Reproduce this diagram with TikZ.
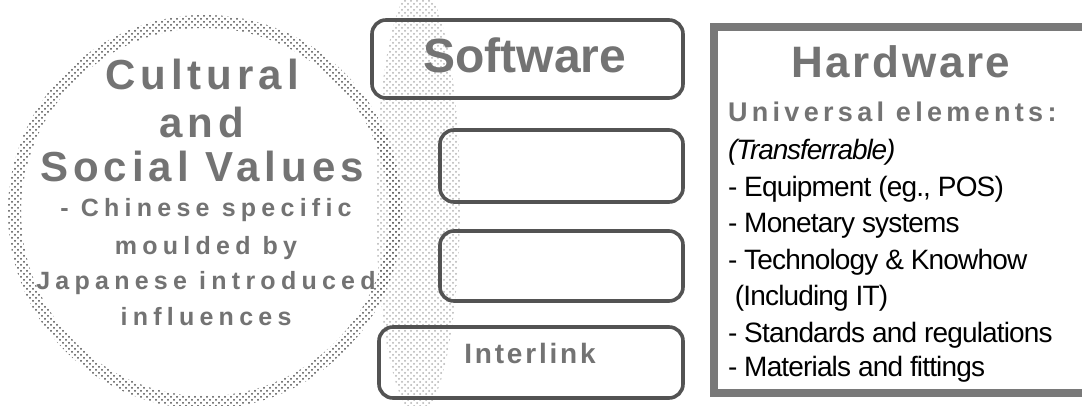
\documentclass[tikz,border=0pt]{standalone}
\usepackage{fontspec}
\setmainfont{Liberation Sans}
\usepackage{tikz}
\usetikzlibrary{positioning, patterns}

\newcommand{\spaced}[1]{\addfontfeatures{LetterSpace=#1}}

\begin{document}
\begin{tikzpicture}[x=0.5pt, y=-0.5pt,
  every node/.style = {inner sep=0pt, outer sep=0pt},
  title/.style = {text=gray!90!black, font=\bfseries\fontsize{24pt}{28pt}\selectfont, anchor=base},
  value/.style = {text=gray!90!black, font=\bfseries\fontsize{21pt}{24pt}\selectfont\spaced{12}, anchor=base},
  sub/.style = {text=gray!90!black, font=\bfseries\fontsize{12.5pt}{15pt}\selectfont\spaced{21}, anchor=base},
  item/.style = {font=\fontsize{14pt}{17pt}\selectfont\spaced{-3}, anchor=base west},
  softbox/.style = {draw=gray!65!black, line width=1.8pt, rounded corners=7pt}]
\useasboundingbox (0,0) rectangle (1082,406);
\clip (0,0) rectangle (1082,406);
\fill[white] (0,0) rectangle (1082,406);

% dotted band behind the software boxes
\fill[pattern=crosshatch dots, pattern color=gray!60] (418,200) ellipse [x radius=42, y radius=215];
% cultural circle, dotted rim
\fill[pattern=crosshatch dots, pattern color=gray!60!black, even odd rule]
  (205,212) circle [radius=197] (205,212) circle [radius=184];

\node[value] (cult) at (202,90) {Cultural};
\node[value] (and) at (202,138) {and};
\node[value] (social) at (202,182) {Social Values};
\node[sub] (chinese) at (206,217) {- Chinese specific};
\node[sub] (mould) at (206,255) {moulded by};
\node[sub] (japan) at (206,290) {Japanese introduced};
\node[sub] (infl) at (206,326) {influences};

% software column
\draw[softbox] (372,20) rectangle (683,98);
\draw[softbox] (440,130) rectangle (683,202);
\draw[softbox] (440,231) rectangle (683,301);
\draw[softbox] (379,327) rectangle (683,398);
\node[title] (soft) at (525,73) {Software};
\node[title, font=\bfseries\fontsize{14pt}{17pt}\selectfont\spaced{10}] (link) at (530,364) {Interlink};

% hardware box
\draw[gray!95!black, line width=4pt] (714,27) rectangle (1110,392.5);
\node[title, font=\bfseries\fontsize{22pt}{26pt}\selectfont\spaced{6}] (hard) at (901,78) {Hardware};
\node[item, text=gray!90!black, font=\bfseries\fontsize{13.5pt}{16pt}\selectfont\spaced{16}] (univ) at (728,122) {Universal elements:};
\node[item, font=\itshape\fontsize{14pt}{17pt}\selectfont\spaced{-4}] (trans) at (728,160) {(Transferrable)};
\node[item] (equip) at (728,197) {- Equipment (eg., POS)};
\node[item] (money) at (728,233) {- Monetary systems};
\node[item] (tech) at (728,270) {- Technology \& Knowhow};
\node[item] (incl) at (728,306) {\ (Including IT)};
\node[item] (stand) at (728,343) {- Standards and regulations};
\node[item] (mat) at (728,377) {- Materials and fittings};
\end{tikzpicture}
\end{document}
